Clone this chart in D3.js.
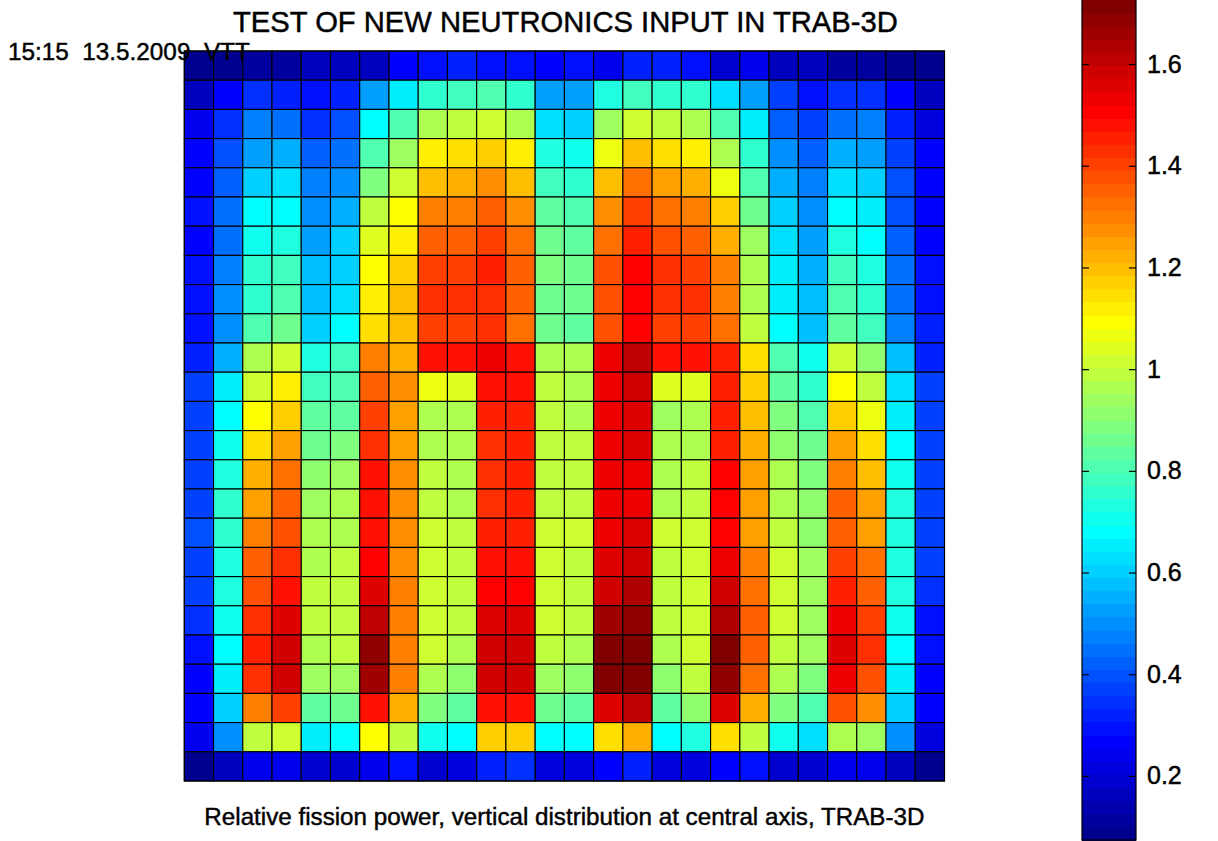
<!DOCTYPE html>
<html>
<head>
<meta charset="utf-8">
<script src="https://cdn.jsdelivr.net/npm/d3@7/dist/d3.min.js"></script>
<style>
  html, body { margin: 0; padding: 0; background: #fff; }
  svg text { font-family: "Liberation Sans", Arial, Helvetica, sans-serif; fill: #000; stroke: #000; stroke-width: 0.45px; }
</style>
</head>
<body>
<svg id="chart" width="1218" height="841"></svg>
<script>
// ---------------- DATA ----------------
const titleText = "TEST OF NEW NEUTRONICS INPUT IN TRAB-3D";
const stampText = "15:15  13.5.2009  VTT";
const captionText = "Relative fission power, vertical distribution at central axis, TRAB-3D";

// column (radial position) categories, left to right
const columns = [1,2,3,4,5,6,7,8,9,10,11,12,13,14,15,16,17,18,19,20,21,22,23,24,25,26];
// row (axial level) categories, top to bottom
const levels = [25,24,23,22,21,20,19,18,17,16,15,14,13,12,11,10,9,8,7,6,5,4,3,2,1];

// colour-bar range and ticks
const colorDomain = [0.074, 1.726];
const colorbarTicks = [0.2, 0.4, 0.6, 0.8, 1, 1.2, 1.4, 1.6];

// relative fission power, one row per axial level (top to bottom)
const power = [
  [.09,.09,.11,.11,.16,.16,.16,.27,.29,.32,.29,.29,.27,.29,.24,.32,.32,.29,.19,.24,.16,.16,.11,.11,.09,.09],
  [.16,.27,.35,.32,.29,.32,.53,.66,.76,.78,.81,.76,.53,.53,.73,.78,.76,.76,.63,.53,.37,.29,.35,.35,.27,.16],
  [.24,.35,.47,.45,.35,.40,.68,.81,.97,.99,1.02,.97,.63,.60,.94,1.02,.99,.97,.81,.66,.42,.37,.45,.47,.32,.22],
  [.27,.40,.53,.55,.42,.45,.81,.94,1.12,1.15,1.17,1.12,.73,.71,1.07,1.20,1.15,1.12,.97,.76,.50,.42,.55,.53,.37,.27],
  [.27,.42,.60,.63,.47,.50,.89,1.02,1.20,1.22,1.27,1.20,.78,.76,1.20,1.33,1.25,1.22,1.07,.81,.55,.47,.63,.60,.40,.27],
  [.29,.45,.68,.68,.50,.55,.99,1.09,1.30,1.30,1.35,1.27,.84,.81,1.27,1.40,1.33,1.30,1.17,.86,.60,.50,.68,.66,.40,.27],
  [.27,.45,.71,.73,.53,.60,1.04,1.12,1.35,1.35,1.40,1.33,.86,.84,1.33,1.46,1.38,1.35,1.22,.94,.63,.53,.73,.68,.42,.27],
  [.29,.47,.76,.78,.58,.60,1.09,1.17,1.40,1.40,1.46,1.35,.89,.86,1.38,1.51,1.43,1.40,1.30,.97,.66,.55,.78,.73,.45,.29],
  [.29,.50,.76,.81,.58,.63,1.12,1.20,1.43,1.43,1.43,1.35,.86,.86,1.38,1.51,1.43,1.43,1.30,.97,.66,.58,.81,.76,.45,.29],
  [.29,.50,.81,.86,.60,.68,1.15,1.20,1.40,1.40,1.43,1.33,.86,.84,1.38,1.51,1.40,1.40,1.33,.99,.68,.58,.84,.78,.47,.32],
  [.32,.55,.97,1.02,.73,.78,1.30,1.22,1.48,1.48,1.53,1.48,.97,.97,1.53,1.61,1.48,1.48,1.46,1.15,.81,.71,1.02,.91,.58,.32],
  [.37,.66,1.02,1.12,.78,.81,1.35,1.27,1.07,1.04,1.48,1.48,.99,.97,1.53,1.58,1.04,1.04,1.46,1.17,.84,.76,1.09,.99,.63,.37],
  [.37,.68,1.09,1.17,.84,.84,1.40,1.25,.97,.97,1.46,1.46,.99,.97,1.53,1.56,.94,.97,1.46,1.20,.89,.81,1.17,1.07,.66,.37],
  [.37,.71,1.15,1.25,.86,.89,1.43,1.25,.97,.97,1.43,1.46,.99,.99,1.53,1.56,.97,.97,1.46,1.22,.91,.86,1.25,1.15,.68,.37],
  [.37,.73,1.22,1.33,.91,.94,1.48,1.27,.99,.97,1.43,1.46,.99,.99,1.53,1.53,.97,.99,1.51,1.25,.97,.89,1.30,1.20,.71,.37],
  [.37,.76,1.25,1.35,.94,.97,1.48,1.27,.99,.97,1.43,1.46,.99,.99,1.53,1.53,.97,.99,1.51,1.25,.97,.91,1.35,1.25,.73,.37],
  [.40,.76,1.30,1.38,.97,.97,1.48,1.27,1.02,.99,1.46,1.46,1.02,1.02,1.53,1.56,1.02,1.02,1.51,1.25,.99,.91,1.35,1.25,.73,.37],
  [.37,.73,1.35,1.43,.97,.99,1.51,1.27,1.02,.99,1.48,1.48,1.02,.99,1.56,1.58,.99,1.02,1.53,1.30,1.02,.94,1.40,1.33,.73,.37],
  [.37,.73,1.38,1.48,.99,.99,1.56,1.30,1.02,.99,1.51,1.51,1.02,.99,1.58,1.64,.99,1.02,1.58,1.33,1.02,.94,1.46,1.35,.73,.35],
  [.35,.71,1.43,1.56,.99,.99,1.61,1.30,1.02,.99,1.56,1.56,1.02,.99,1.66,1.69,.99,1.02,1.64,1.35,1.02,.94,1.53,1.40,.71,.29],
  [.29,.68,1.46,1.58,.97,.99,1.69,1.30,1.02,.97,1.58,1.58,.99,.97,1.71,1.71,.97,1.02,1.71,1.35,.99,.94,1.56,1.43,.68,.29],
  [.27,.66,1.43,1.58,.94,.94,1.66,1.30,.97,.91,1.58,1.58,.94,.91,1.71,1.71,.91,.99,1.69,1.33,.97,.89,1.53,1.38,.66,.27],
  [.27,.60,1.30,1.40,.84,.86,1.48,1.22,.89,.84,1.48,1.48,.86,.84,1.56,1.61,.84,.91,1.56,1.22,.89,.81,1.38,1.27,.60,.27],
  [.24,.50,.99,1.02,.66,.68,1.09,.99,.71,.68,1.17,1.17,.68,.68,1.15,1.22,.68,.73,1.15,.99,.71,.63,.97,.94,.50,.22],
  [.09,.16,.24,.24,.19,.19,.24,.29,.19,.22,.32,.35,.22,.22,.27,.32,.22,.22,.27,.29,.19,.19,.24,.24,.16,.09]
];

// ---------------- COLOUR MAP (MATLAB jet, 64 levels) ----------------
function jet64(i) {
  const r = i <= 23 ? 0 : i <= 38 ? (i - 23) / 16 : i <= 55 ? 1 : (71 - i) / 16;
  const g = i <= 7 ? 0 : i <= 22 ? (i - 7) / 16 : i <= 39 ? 1 : i <= 54 ? (55 - i) / 16 : 0;
  const b = i <= 6 ? (9 + i) / 16 : i <= 23 ? 1 : i <= 38 ? (39 - i) / 16 : 0;
  return d3.rgb(Math.round(r * 255), Math.round(g * 255), Math.round(b * 255)).formatHex();
}
const jetColors = d3.range(64).map(jet64);
const color = d3.scaleQuantize().domain(colorDomain).range(jetColors);

// ---------------- LAYOUT ----------------
const svg = d3.select("#chart");
const plot = { left: 184.3, right: 944.5, top: 51, bottom: 781 };
const bar = { left: 1082, right: 1136, top: 0, bottom: 840 };

const x = d3.scaleBand().domain(columns).range([plot.left, plot.right]).padding(0);
const y = d3.scaleBand().domain(levels).range([plot.top, plot.bottom]).padding(0);

// cells
const cells = [];
power.forEach((row, ri) => row.forEach((v, ci) => cells.push({ level: levels[ri], col: columns[ci], v })));

svg.append("g")
  .selectAll("rect")
  .data(cells)
  .join("rect")
  .attr("x", d => x(d.col))
  .attr("y", d => y(d.level))
  .attr("width", x.bandwidth())
  .attr("height", y.bandwidth())
  .attr("fill", d => color(d.v))
  .attr("stroke", "#000")
  .attr("stroke-width", 1.1);

// outer frame
svg.append("rect")
  .attr("x", plot.left).attr("y", plot.top)
  .attr("width", plot.right - plot.left).attr("height", plot.bottom - plot.top)
  .attr("fill", "none").attr("stroke", "#000").attr("stroke-width", 1.1);

// ---------------- COLOUR BAR ----------------
const cy = d3.scaleLinear().domain(colorDomain).range([bar.bottom, bar.top]);
const bandStep = (colorDomain[1] - colorDomain[0]) / jetColors.length;
const bands = jetColors.map((c, i) => ({ c, lo: colorDomain[0] + i * bandStep, hi: colorDomain[0] + (i + 1) * bandStep }));

const cb = svg.append("g");
cb.selectAll("rect")
  .data(bands)
  .join("rect")
  .attr("x", bar.left)
  .attr("width", bar.right - bar.left)
  .attr("y", d => cy(d.hi))
  .attr("height", d => cy(d.lo) - cy(d.hi) + 0.5)
  .attr("fill", d => d.c)
  .attr("shape-rendering", "crispEdges");

cb.append("rect")
  .attr("x", bar.left).attr("y", bar.top - 1)
  .attr("width", bar.right - bar.left).attr("height", bar.bottom - bar.top + 1)
  .attr("fill", "none").attr("stroke", "#000").attr("stroke-width", 1.2);

// right axis with labels (ticks pointing inward)
const axR = svg.append("g")
  .attr("transform", `translate(${bar.right},0)`)
  .call(d3.axisRight(cy).tickValues(colorbarTicks).tickSize(-7).tickPadding(11).tickFormat(d => String(d)));
axR.select(".domain").remove();
axR.selectAll(".tick line").attr("stroke", "#000").attr("stroke-width", 1.2);
axR.selectAll(".tick text")
  .style("font-family", '"Liberation Sans", Arial, Helvetica, sans-serif')
  .style("font-size", "25px")
  .attr("fill", "#000");

// left ticks (inward, no labels)
const axL = svg.append("g")
  .attr("transform", `translate(${bar.left},0)`)
  .call(d3.axisLeft(cy).tickValues(colorbarTicks).tickSize(-7).tickFormat(""));
axL.select(".domain").remove();
axL.selectAll(".tick line").attr("stroke", "#000").attr("stroke-width", 1.2);

// ---------------- TEXTS ----------------
svg.append("text")
  .attr("x", (plot.left + plot.right) / 2 + 1)
  .attr("y", 32)
  .attr("text-anchor", "middle")
  .style("font-size", "29.2px")
  .text(titleText);

svg.append("text")
  .attr("x", 8)
  .attr("y", 60)
  .style("font-size", "24.3px")
  .style("white-space", "pre")
  .attr("xml:space", "preserve")
  .text(stampText);

svg.append("text")
  .attr("x", (plot.left + plot.right) / 2 + 0)
  .attr("y", 825)
  .attr("text-anchor", "middle")
  .style("font-size", "24.2px")
  .text(captionText);
</script>
</body>
</html>
